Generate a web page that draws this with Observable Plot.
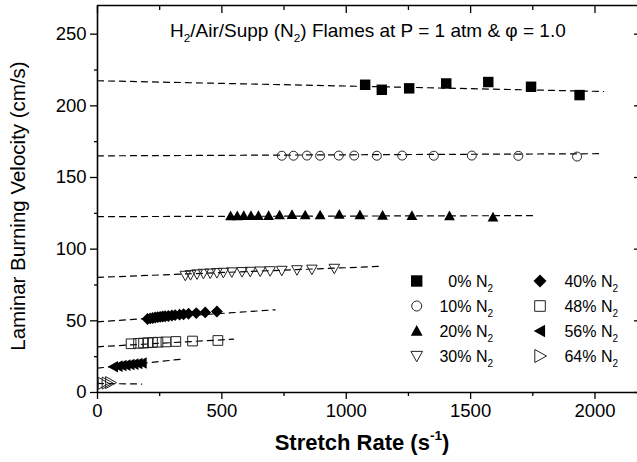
<!DOCTYPE html>
<html><head><meta charset="utf-8">
<script src="https://cdn.jsdelivr.net/npm/d3@7"></script>
<script src="https://cdn.jsdelivr.net/npm/@observablehq/plot@0.6"></script>
<style>body{margin:0;background:#fff}#chart{width:637px;height:462px;overflow:hidden}</style>
</head><body><div id="chart"></div>
<script>
// ---- data ----
const seriesLabels = ["0%", "10%", "20%", "30%", "40%", "48%", "56%", "64%"];
const stretch0 = [1076, 1143, 1253, 1402, 1571, 1743, 1938];
const vel0 = [214.7, 211.2, 212.2, 215.6, 216.6, 213.3, 207.5];
const stretch10 = [741, 788, 842, 895, 970, 1032, 1123, 1225, 1352, 1505, 1692, 1928];
const vel10 = [165.2, 165.2, 165.3, 165.2, 165.3, 165.3, 165.2, 165.3, 165.2, 165.3, 165.1, 164.6];
const stretch20 = [535, 562, 588, 617, 647, 688, 732, 782, 835, 895, 972, 1055, 1146, 1264, 1415, 1590];
const vel20 = [123.2, 123.2, 123.3, 123.3, 123.3, 123.4, 123.8, 124.0, 123.8, 123.8, 124.2, 123.9, 123.5, 123.4, 123.2, 122.4];
const stretch30 = [353, 374, 400, 426, 453, 480, 506, 540, 581, 614, 654, 694, 741, 802, 862, 952];
const vel30 = [81.6, 82.1, 82.6, 83.0, 83.2, 83.5, 83.7, 84.0, 84.2, 84.4, 84.6, 84.8, 85.1, 85.5, 85.9, 86.5];
const stretch40 = [201, 212, 222, 232, 242, 252, 262, 272, 285, 299, 312, 330, 346, 366, 397, 433, 480];
const vel40 = [51.3, 51.7, 52.0, 52.3, 52.6, 52.8, 53.0, 53.2, 53.4, 53.7, 54.0, 54.3, 54.6, 54.9, 55.4, 55.9, 56.5];
const stretch48 = [135, 165, 185, 202, 221, 243, 275, 315, 382, 484];
const vel48 = [34.0, 34.3, 34.5, 34.7, 34.9, 35.1, 35.3, 35.6, 35.9, 36.3];
const stretch56 = [64, 82, 98, 114, 130, 146, 162, 179];
const vel56 = [18.0, 18.4, 18.8, 19.1, 19.5, 19.8, 20.2, 20.6];
const stretch64 = [22, 38, 52];
const vel64 = [6.4, 6.6, 6.9];

// linear fits (dashed): start/end stretch and velocity
const fitX1 = [0, 0, 0, 0, 0, 0, 0, 0];
const fitX2 = [2035, 2030, 1760, 1137, 714, 547, 340, 178];
const fitY1 = [217.5, 165.1, 122.7, 80.3, 49.3, 31.9, 17.0, 6.3];
const fitY2 = [210.0, 166.6, 123.4, 88.0, 57.7, 37.2, 23.3, 5.9];

const xMajor = [0, 500, 1000, 1500, 2000];
const xMinor = [250, 750, 1250, 1750];
const yMajor = [0, 50, 100, 150, 200, 250];
const yMinor = [25, 75, 125, 175, 225];
const xDomain = [0, 2183];
const yDomain = [0, 270];

// ---- symbols ----
const R = s => Math.sqrt(s / Math.PI);
const sqSym = {draw(c, s) { const r = R(s) * 0.95; c.rect(-r, -r, 2 * r, 2 * r); }};
const triUp = {draw(c, s) { const r = R(s); c.moveTo(0, -r); c.lineTo(r, 0.8 * r); c.lineTo(-r, 0.8 * r); c.closePath(); }};
const triDown = {draw(c, s) { const r = R(s); c.moveTo(0, r); c.lineTo(r, -0.8 * r); c.lineTo(-r, -0.8 * r); c.closePath(); }};
const triLeft = {draw(c, s) { const r = R(s); c.moveTo(-r, 0); c.lineTo(0.8 * r, -r); c.lineTo(0.8 * r, r); c.closePath(); }};
const triRight = {draw(c, s) { const r = R(s); c.moveTo(r, 0); c.lineTo(-0.8 * r, -r); c.lineTo(-0.8 * r, r); c.closePath(); }};
const diaSym = {draw(c, s) { const r = R(s) * 1.1; c.moveTo(0, -r); c.lineTo(r, 0); c.lineTo(0, r); c.lineTo(-r, 0); c.closePath(); }};
const circSym = {draw(c, s) { const r = R(s); c.moveTo(r, 0); c.arc(0, 0, r, 0, 2 * Math.PI); }};

const stretchAll = [stretch0, stretch10, stretch20, stretch30, stretch40, stretch48, stretch56, stretch64];
const velAll = [vel0, vel10, vel20, vel30, vel40, vel48, vel56, vel64];
const symbols = [sqSym, circSym, triUp, triDown, diaSym, sqSym, triLeft, triRight];
const filled = [true, false, true, false, true, false, true, false];
const radii = [5.5, 4.5, 5.4, 5.3, 5.4, 5.1, 5.8, 6.0];

const fitRows = [];
seriesLabels.forEach((s, i) => {
  fitRows.push({s, x: fitX1[i], y: fitY1[i]});
  fitRows.push({s, x: fitX2[i], y: fitY2[i]});
});

const dotMarks = seriesLabels.map((s, i) => {
  const rows = stretchAll[i].map((x, j) => ({x, y: velAll[i][j]}));
  return Plot.dot(rows, {
    x: "x", y: "y", symbol: symbols[i], r: radii[i],
    fill: filled[i] ? "black" : "none",
    stroke: filled[i] ? "none" : "#222",
    strokeWidth: 1
  });
});

const fmt = d => String(d);
const empty = () => "";

const plot = Plot.plot({
  width: 637, height: 462,
  marginLeft: 97, marginRight: -3, marginTop: 5, marginBottom: 70,
  x: {domain: xDomain},
  y: {domain: yDomain},
  style: {fontFamily: '"Liberation Sans", Arial, sans-serif', fontSize: "18.5px", color: "black", background: "white"},
  marks: [
    Plot.axisX({ticks: xMajor, tickSize: 7, tickPadding: 4, tickFormat: fmt, label: null, strokeWidth: 1.3}),
    Plot.axisX({ticks: xMinor, tickSize: 4, tickFormat: empty, label: null, strokeWidth: 1.3}),
    Plot.axisX({anchor: "top", ticks: xMajor, tickSize: -7, tickFormat: empty, label: null, strokeWidth: 1.3}),
    Plot.axisX({anchor: "top", ticks: xMinor, tickSize: -4, tickFormat: empty, label: null, strokeWidth: 1.3}),
    Plot.axisY({ticks: yMajor, tickSize: 7, tickPadding: 4, tickFormat: fmt, label: null, strokeWidth: 1.3}),
    Plot.axisY({ticks: yMinor, tickSize: 3, tickFormat: empty, label: null, strokeWidth: 1.3}),
    Plot.axisY({anchor: "right", ticks: yMajor, tickSize: -7, tickFormat: empty, label: null, strokeWidth: 1.3}),
    Plot.ruleY([yDomain[0]], {stroke: "black", strokeWidth: 1.6}),
    Plot.ruleY([yDomain[1]], {stroke: "black", strokeWidth: 1.6}),
    Plot.ruleX([xDomain[0]], {stroke: "black", strokeWidth: 1.6}),
    Plot.line(fitRows, {x: "x", y: "y", z: "s", stroke: "black", strokeWidth: 1.2, strokeDasharray: "6,5"}),
    ...dotMarks
  ]
});

const svg = d3.select(plot);
const FONT = '"Liberation Sans", Arial, sans-serif';

function richText(g, x, y, parts, size, anchor, weight) {
  const t = g.append("text").attr("x", x).attr("y", y).attr("text-anchor", anchor)
    .attr("font-family", FONT).attr("font-size", size).attr("font-weight", weight || "normal").attr("fill", "black");
  parts.forEach(([str, kind]) => {
    const sp = t.append("tspan").text(str);
    if (kind === "sub") sp.attr("font-size", size * 0.62).attr("dy", size * 0.28);
    else if (kind === "sup") sp.attr("font-size", size * 0.62).attr("dy", -size * 0.45);
    else if (kind === "back") sp.attr("dy", -size * 0.28);
    else if (kind === "backsup") sp.attr("dy", size * 0.45);
  });
  return t;
}

const g = svg.append("g");
// title
richText(g, 170, 37, [["H", ""], ["2", "sub"], ["/Air/Supp (N", "back"], ["2", "sub"], [") Flames at P = 1 atm & \u03C6 = 1.0", "back"]], 19, "start");
// axis labels
const yl = g.append("g").attr("transform", "translate(25,206) rotate(-90)");
richText(yl, 0, 0, [["Laminar Burning Velocity (cm/s)", ""]], 20.5, "middle");
richText(g, 362, 450, [["Stretch Rate (s", ""], ["-1", "sup"], [")", "backsup"]], 22, "middle", "bold");

// legend
const legX = [416.7, 416.7, 416.7, 416.7, 540, 540, 540, 540];
const legTextX = [493, 493, 493, 493, 618, 618, 618, 618];
const legY = [281, 306, 331, 356, 281, 306, 331, 356];
seriesLabels.forEach((s, i) => {
  const r = radii[i] + 0.5;
  g.append("path")
    .attr("transform", `translate(${legX[i]},${legY[i]})`)
    .attr("d", d3.symbol().type(symbols[i]).size(Math.PI * r * r)())
    .attr("fill", filled[i] ? "black" : "none")
    .attr("stroke", filled[i] ? "none" : "#222").attr("stroke-width", 1);
  const t = richText(g, legTextX[i], legY[i] + 6, [[s + " N", ""]], 16, "end");
  t.append("tspan").text("2").attr("font-size", 10).attr("dy", 4.5);
});

document.getElementById("chart").appendChild(plot);
</script>
</body></html>
